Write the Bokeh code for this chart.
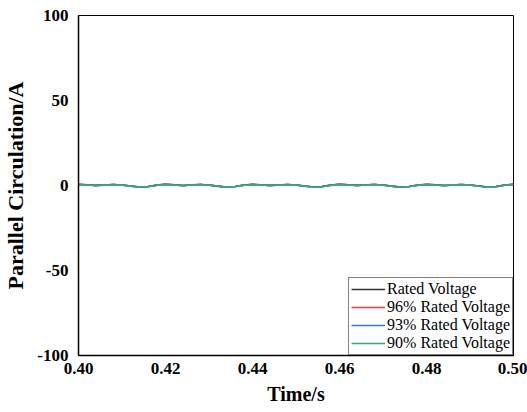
from bokeh.plotting import figure
from bokeh.models import Legend, LegendItem, Range1d, FixedTicker
from bokeh.embed import file_html
from bokeh.resources import INLINE

# Sample times (s), 2 ms step
time_s = [round(0.400 + 0.002 * k, 3) for k in range(51)]

# Parallel circulation current (A) for each supply voltage level
rated = [0.65, 0.40, 0.05, 0.30, 0.55, 0.30, -0.30, -0.90, -0.60, 0.20,
         0.70, 0.40, 0.00, 0.35, 0.60, 0.25, -0.35, -0.95, -0.55, 0.25,
         0.65, 0.35, 0.05, 0.30, 0.55, 0.30, -0.30, -0.90, -0.60, 0.20,
         0.70, 0.40, 0.05, 0.35, 0.60, 0.25, -0.35, -0.95, -0.55, 0.20,
         0.65, 0.40, 0.00, 0.30, 0.55, 0.30, -0.30, -0.90, -0.60, 0.25,
         0.70]
v96 = [0.60, 0.40, 0.05, 0.30, 0.50, 0.30, -0.30, -0.85, -0.60, 0.20,
       0.65, 0.40, 0.00, 0.30, 0.55, 0.25, -0.35, -0.90, -0.55, 0.20,
       0.60, 0.35, 0.05, 0.30, 0.55, 0.30, -0.30, -0.85, -0.60, 0.20,
       0.65, 0.40, 0.05, 0.30, 0.55, 0.25, -0.35, -0.90, -0.55, 0.20,
       0.60, 0.40, 0.00, 0.30, 0.50, 0.30, -0.30, -0.85, -0.60, 0.20,
       0.65]
v93 = [0.60, 0.35, 0.00, 0.25, 0.50, 0.25, -0.35, -0.90, -0.65, 0.15,
       0.65, 0.35, -0.05, 0.30, 0.55, 0.20, -0.40, -0.95, -0.60, 0.20,
       0.60, 0.30, 0.00, 0.25, 0.50, 0.25, -0.35, -0.90, -0.65, 0.15,
       0.65, 0.35, 0.00, 0.30, 0.55, 0.20, -0.40, -0.95, -0.60, 0.15,
       0.60, 0.35, -0.05, 0.25, 0.50, 0.25, -0.35, -0.90, -0.65, 0.20,
       0.65]
v90 = [0.55, 0.30, -0.05, 0.20, 0.45, 0.20, -0.40, -1.00, -0.70, 0.10,
       0.60, 0.30, -0.10, 0.25, 0.50, 0.15, -0.45, -1.05, -0.65, 0.15,
       0.55, 0.25, -0.05, 0.20, 0.45, 0.20, -0.40, -1.00, -0.70, 0.10,
       0.60, 0.30, -0.05, 0.25, 0.50, 0.15, -0.45, -1.05, -0.65, 0.10,
       0.55, 0.30, -0.10, 0.20, 0.45, 0.20, -0.40, -1.00, -0.70, 0.15,
       0.60]

series_names = ["Rated Voltage", "96% Rated Voltage", "93% Rated Voltage", "90% Rated Voltage"]
series_values = [rated, v96, v93, v90]
series_colors = ["#333333", "#e8403a", "#2f78c8", "#3aaa78"]

x_ticks = [0.40, 0.42, 0.44, 0.46, 0.48, 0.50]
y_ticks = [-100, -50, 0, 50, 100]

p = figure(width=527, height=412, output_backend="svg", toolbar_location=None,
           x_range=Range1d(0.40, 0.50), y_range=Range1d(-100, 100),
           min_border_left=77, min_border_right=14, min_border_top=15, min_border_bottom=57)

renderers = []
for vals, col in zip(series_values, series_colors):
    r = p.line(time_s, vals, line_color=col, line_width=1.6)
    renderers.append(r)

p.xgrid.visible = False
p.ygrid.visible = False
p.outline_line_color = "black"
p.outline_line_width = 1
p.background_fill_color = "white"
p.border_fill_color = "white"

serif = "Liberation Serif"
for ax in (p.xaxis, p.yaxis):
    ax.major_tick_line_color = None
    ax.minor_tick_line_color = None
    ax.major_tick_out = 0
    ax.major_tick_in = 0
    ax.minor_tick_out = 0
    ax.minor_tick_in = 0
    ax.axis_line_color = "black"
    ax.axis_line_width = 1.5
    ax.major_label_text_font = serif
    ax.major_label_text_font_style = "bold"
    ax.major_label_text_font_size = "17px"
    ax.major_label_text_color = "black"
    ax.axis_label_text_font = serif
    ax.axis_label_text_font_style = "bold"
    ax.axis_label_text_color = "black"

p.xaxis.axis_label_text_font_size = "20px"
p.yaxis.axis_label_text_font_size = "22px"

p.xaxis.ticker = FixedTicker(ticks=x_ticks)
p.yaxis.ticker = FixedTicker(ticks=y_ticks)
p.xaxis.major_label_overrides = {t: f"{t:.2f}" for t in x_ticks}
p.yaxis.major_label_overrides = {t: str(t) for t in y_ticks}
p.xaxis.axis_label = "Time/s"
p.yaxis.axis_label = "Parallel Circulation/A"
p.xaxis.major_label_standoff = 7
p.yaxis.major_label_standoff = 10
p.xaxis.axis_label_standoff = 6
p.yaxis.axis_label_standoff = 6

legend = Legend(items=[LegendItem(label=n, renderers=[r]) for n, r in zip(series_names, renderers)],
                location="bottom_right", margin=0, padding=2, spacing=0,
                glyph_width=34, glyph_height=18, label_height=18, label_standoff=2,
                label_text_font=serif, label_text_font_size="16px", label_text_color="black",
                border_line_color="black", border_line_width=1,
                background_fill_color="white", background_fill_alpha=1)
p.add_layout(legend, "center")

open("out.html", "w").write(file_html(p, INLINE))
